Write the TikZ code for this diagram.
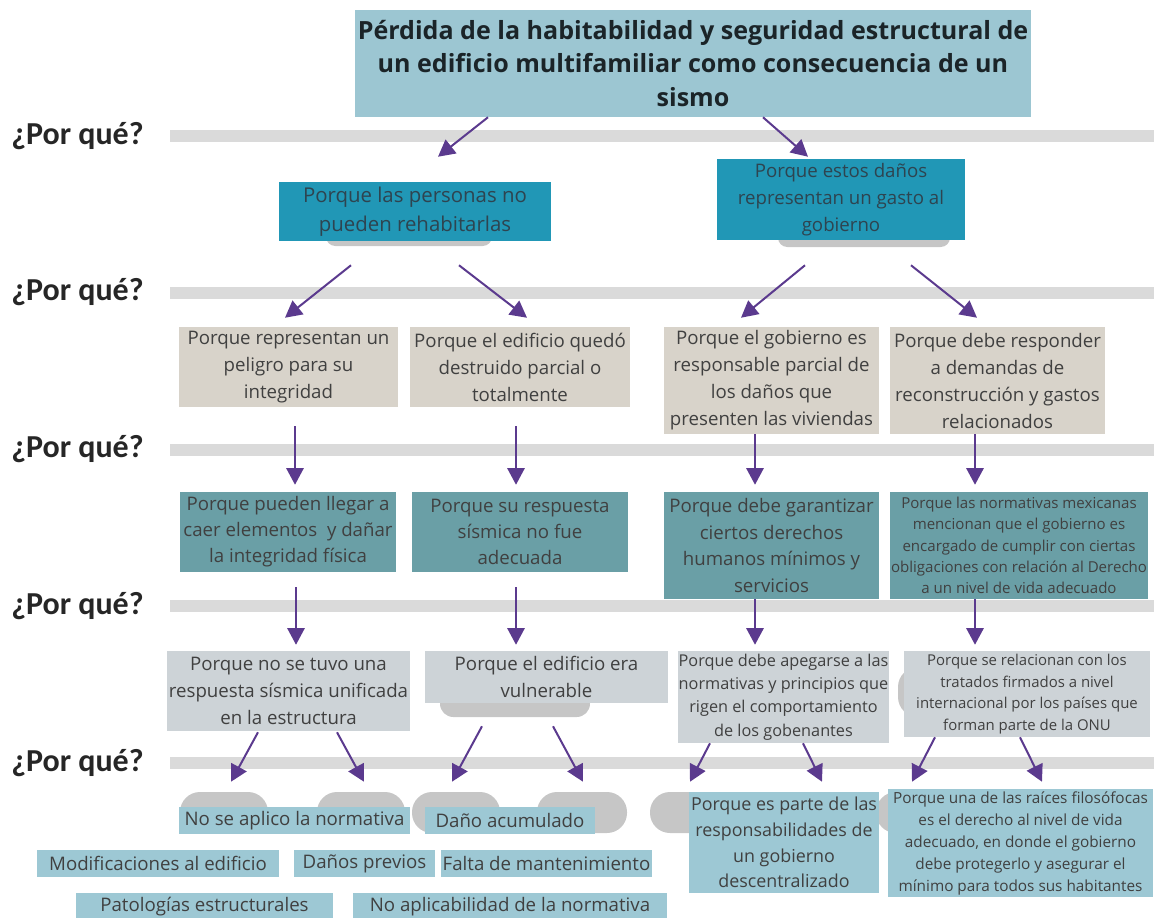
\documentclass[tikz,border=0pt]{standalone}
\usepackage{fontspec}
\setmainfont{Open Sans}
\newfontfamily\whyfont{Carlito}
\usepackage{tikz}
\usetikzlibrary{arrows.meta,positioning}

\definecolor{titleblue}{HTML}{9CC6D2}
\definecolor{deepteal}{HTML}{2197B6}
\definecolor{sand}{HTML}{D8D3CA}
\definecolor{slateteal}{HTML}{6A9FA6}
\definecolor{mist}{HTML}{CDD3D7}
\definecolor{paleblue}{HTML}{9DC8D4}
\definecolor{barcol}{HTML}{DADADA}
\definecolor{pillcol}{HTML}{C6C6C6}
\definecolor{arrowcol}{HTML}{5B3A8E}
\definecolor{inkcol}{HTML}{404040}
\definecolor{titleink}{HTML}{1B2428}
\definecolor{tealink}{HTML}{2E4450}

\begin{document}
\begin{tikzpicture}[x=0.75pt,y=-0.75pt,
    box/.style 2 args={minimum width=#1*0.75pt,minimum height=#2*0.75pt,inner sep=0pt,align=center,text=inkcol},
    fs/.style 2 args={font=\fontsize{#1}{#2}\selectfont},
    whylabel/.style={font=\whyfont\bfseries\fontsize{24}{28}\selectfont,anchor=west,inner sep=0pt,text=black!85},
    whybar/.style={fill=barcol},
    pill/.style={fill=pillcol,rounded corners=#1},
    pill/.default=15pt,
    why/.style={draw=arrowcol,line width=1.5pt,-{Triangle[length=12.5pt,width=13pt]}}
]

\useasboundingbox (0,0) rectangle (1154,918);

% why rows
\foreach \y [count=\i] in {136,292.5,449.5,606,763}
{
    \fill[whybar] (170,\y-6) rectangle (1154,\y+6);
    \node[whylabel] (why\i) at (11,\y) {¿Por qué?};
}

% grey blobs behind the boxes
\fill[pill=7pt] (326,222) rectangle (492,246);
\fill[pill=7pt] (778,222) rectangle (950,247);
\fill[pill=10pt] (440,690) rectangle (590,717);
\fill[pill] (898,667) rectangle (1000,717);
\foreach \a/\b in {180/268,317/405,412/500,537/627,650/760,876/960}
    \fill[pill] (\a,792) rectangle (\b,833);

% problem
\node[box={676}{107},fill=titleblue,text=titleink,font=\bfseries\fontsize{18.8}{25}\selectfont] (top) at (693,63.5)
    {Pérdida de la habitabilidad y seguridad estructural de\\un edificio multifamiliar como consecuencia de un\\sismo};

% first why
\node[box={272}{59},fill=deepteal,text=tealink,fs={15.3}{21.75}] (r1l) at (415,211.5) {Porque las personas no\\pueden rehabitarlas};
\node[box={248}{81},fill=deepteal,text=tealink,fs={14}{20.25}] (r1r) at (841,199.5) {Porque estos daños\\representan un gasto al\\gobierno};

% second why
\node[box={219}{80},fill=sand,fs={14}{20.25}] (r2a) at (288.5,367) {Porque representan un\\peligro para su\\integridad};
\node[box={220}{80},fill=sand,fs={14}{20.25}] (r2b) at (520,367) {Porque el edificio quedó\\destruido parcial o\\totalmente};
\node[box={215}{107},fill=sand,fs={14}{20.25}] (r2c) at (771.5,380.5) {Porque el gobierno es\\responsable parcial de\\los daños que\\presenten las viviendas};
\node[box={215}{107},fill=sand,fs={14}{20.25}] (r2d) at (997.5,380.5) {Porque debe responder\\a demandas de\\reconstrucción y gastos\\relacionados};

% third why
\node[box={216}{80},fill=slateteal,fs={14}{19.5}] (r3a) at (288,532) {Porque pueden llegar a\\caer elementos\ \ y dañar\\la integridad física};
\node[box={216}{80},fill=slateteal,fs={14}{19.5}] (r3b) at (520,532) {Porque su respuesta\\sísmica no fue\\adecuada};
\node[box={215}{107},fill=slateteal,fs={14}{20}] (r3c) at (771.5,545.5) {Porque debe garantizar\\ciertos derechos\\humanos mínimos y\\servicios};
\node[box={258}{107},fill=slateteal,fs={11.3}{16}] (r3d) at (1019,545.5) {Porque las normativas mexicanas\\mencionan que el gobierno es\\encargado de cumplir con ciertas\\obligaciones con relación al Derecho\\a un nivel de vida adecuado};

% fourth why
\node[box={243}{80},fill=mist,fs={14}{20}] (r4a) at (288.5,691) {Porque no se tuvo una\\respuesta sísmica unificada\\en la estructura};
\node[box={243}{52},fill=mist,fs={14}{20}] (r4b) at (546.5,677) {Porque el edificio era\\vulnerable};
\node[box={211}{92},fill=mist,fs={12.2}{17.5}] (r4c) at (783.5,697) {Porque debe apegarse a las\\normativas y principios que\\rigen el comportamiento\\de los gobenantes};
\node[box={246}{86},fill=mist,fs={11.2}{16.3}] (r4d) at (1027,694) {Porque se relacionan con los\\tratados firmados a nivel\\internacional por los países que\\forman parte de la ONU};

% fifth why
\node[box={231}{27},fill=paleblue,fs={14}{17}] (l1) at (294.5,820.5) {No se aplico la normativa};
\node[box={170}{27},fill=paleblue,fs={14}{17}] (l2) at (510,820.5) {Daño acumulado};
\node[box={242}{27},fill=paleblue,fs={14}{17}] (l3) at (158,863.5) {Modificaciones al edificio};
\node[box={141}{27},fill=paleblue,fs={14}{17}] (l4) at (364.5,863.5) {Daños previos};
\node[box={211}{27},fill=paleblue,fs={14}{17}] (l5) at (546.5,863.5) {Falta de mantenimiento};
\node[box={257}{27},fill=paleblue,fs={14}{17}] (l6) at (204.5,906.5) {Patologías estructurales};
\node[box={314}{27},fill=paleblue,fs={14}{17}] (l7) at (510,906.5) {No aplicabilidad de la normativa};
\node[box={190}{101},fill=paleblue,fs={13.4}{19.3}] (r5c) at (784,842.5) {Porque es parte de las\\responsabilidades de\\un gobierno\\descentralizado};
\node[box={265}{108},fill=paleblue,fs={11.5}{16.5}] (r5d) at (1020.5,843) {Porque una de las raíces filosófocas\\es el derecho al nivel de vida\\adecuado, en donde el gobierno\\debe protegerlo y asegurar el\\mínimo para todos sus habitantes};

% arrows
\draw[why] ([shift={(-205,0)}]top.south) -- ([shift={(23,-25)}]r1l.north);
\draw[why] ([shift={(70,0)}]top.south) -- ([shift={(-33,-2)}]r1r.north);
\draw[why] ([shift={(-64,24)}]r1l.south) -- ([shift={(-3.5,-9)}]r2a.north);
\draw[why] ([shift={(44,24)}]r1l.south) -- ([shift={(7,-9)}]r2b.north);
\draw[why] ([shift={(-36,25)}]r1r.south) -- ([shift={(-30.5,-9)}]r2c.north);
\draw[why] ([shift={(70,25)}]r1r.south) -- ([shift={(-20.5,-9)}]r2d.north);

\foreach \from/\to/\dx/\gap/\tx in {r2a/r3a/6.5/19/7, r2b/r3b/-4/19/-4, r2c/r3c/-16.5/0/-16.5, r2d/r3d/-22.5/0/-44}
    \draw[why] ([shift={(\dx,\gap)}]\from.south) -- ([shift={(\tx,-7)}]\to.north);
\foreach \from/\to/\dx/\gap/\tx in {r3a/r4a/8/15/7.5, r3b/r4b/-4/15/-30.5, r3c/r4c/-16.5/0/-28.5, r3d/r4d/-44/0/-52}
    \draw[why] ([shift={(\dx,\gap)}]\from.south) -- ([shift={(\tx,-6)}]\to.north);

\draw[why] ([shift={(-30.5,1)}]r4a.south) -- ([shift={(-63.5,-25)}]l1.north);
\draw[why] ([shift={(48.5,1)}]r4a.south) -- ([shift={(69.5,-25)}]l1.north);
\draw[why] ([shift={(-64.5,23)}]r4b.south) -- ([shift={(-58,-25)}]l2.north);
\draw[why] ([shift={(6.5,23)}]r4b.south) -- ([shift={(73,-25)}]l2.north);
\draw[why] ([shift={(-73.5,0)}]r4c.south) -- ([shift={(-94,-10)}]r5c.north);
\draw[why] ([shift={(19.5,0)}]r4c.south) -- ([shift={(38,-10)}]r5c.north);
\draw[why] ([shift={(-92,0)}]r4d.south) -- ([shift={(-108.5,-7)}]r5d.north);
\draw[why] ([shift={(-7,0)}]r4d.south) -- ([shift={(21.5,-7)}]r5d.north);

\end{tikzpicture}
\end{document}
